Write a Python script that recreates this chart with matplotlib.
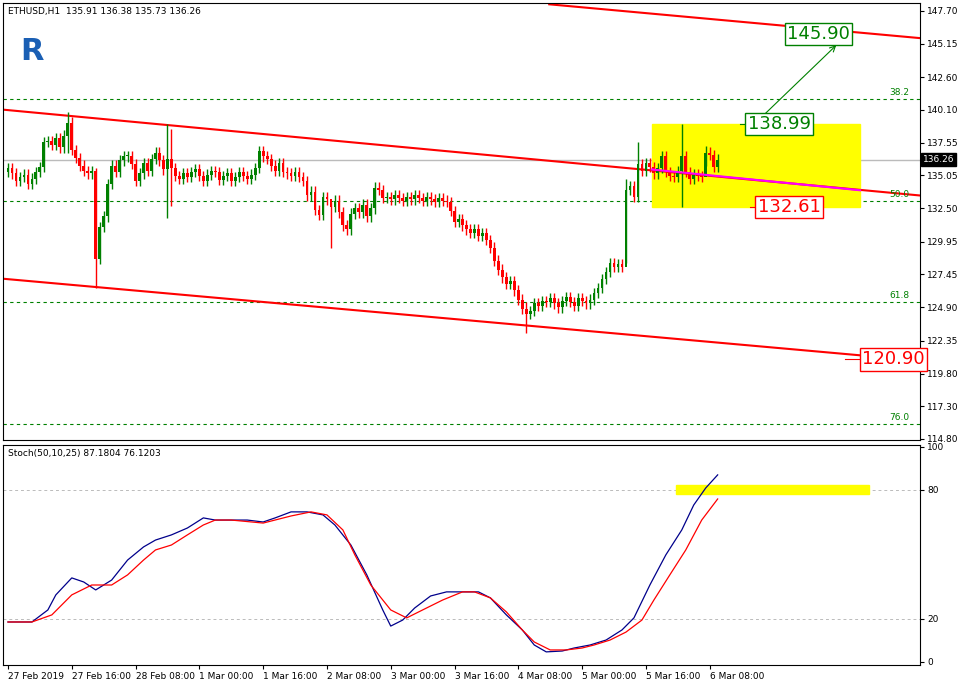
import numpy as np
import matplotlib.pyplot as plt
from matplotlib.patches import Rectangle

# hourly closes, ETHUSD H1 27 Feb - 6 Mar 2019
closes = [135.6, 135.2, 134.6, 134.9, 135.1, 134.4, 134.8, 135.3, 135.7, 137.6,
          137.7, 137.4, 137.9, 137.2, 138.1, 139.1, 137.0, 136.4, 135.8, 135.4,
          135.2, 135.4, 128.6, 131.1, 131.9, 134.4, 135.8, 135.3, 136.2, 136.5,
          136.5, 135.9, 134.6, 135.2, 136.0, 135.4, 136.3, 136.8, 136.2, 135.5,
          136.3, 135.6, 135.0, 134.8, 135.2, 134.9, 135.3, 135.5, 135.0, 134.6,
          135.1, 135.4, 135.3, 134.7, 135.0, 135.2, 134.6, 134.9, 135.3, 135.0,
          134.8, 135.1, 135.6, 136.9, 136.5, 136.3, 135.8, 135.4, 136.0, 135.3,
          135.2, 135.0, 135.3, 134.9, 134.6, 133.5, 133.8, 132.4, 132.0, 133.4,
          133.2, 132.6, 133.1, 132.2, 131.2, 130.9, 132.1, 132.5, 132.2, 132.8,
          131.9, 132.5, 134.1, 133.9, 133.3, 133.4, 133.2, 133.5, 133.3, 133.1,
          133.4, 133.2, 133.5, 133.3, 133.1, 133.4, 133.2, 133.0, 133.3, 133.1,
          133.0, 132.3, 131.5, 131.7, 131.2, 130.9, 130.6, 130.9, 130.4, 130.6,
          130.1, 129.5, 128.5, 127.8, 127.2, 126.7, 126.9, 126.2, 125.5, 124.8,
          124.4, 124.6, 125.2, 125.0, 125.4, 125.3, 125.6, 125.2, 124.9, 125.4,
          125.7, 125.3, 125.0, 125.6, 125.4, 125.2, 125.5, 126.0, 126.4, 127.1,
          127.6, 128.3, 128.0, 128.2, 128.0, 133.9, 134.2, 133.4, 135.9, 135.4,
          136.0, 135.7, 135.2, 135.6, 136.5, 135.3, 135.0, 134.9, 135.4, 136.5,
          135.3, 134.8, 135.1, 135.0, 134.9, 136.8, 136.6, 135.7, 136.26]
first_open = 135.3
wick = 0.4
# bars with long shadows: index -> (high, low)
long_wicks = {15: (139.9, 136.8), 22: (135.6, 126.4), 40: (139.0, 131.8),
              41: (138.6, 132.7), 81: (133.0, 129.5), 130: (125.3, 122.9),
              155: (134.8, 128.3), 158: (137.6, 133.0), 169: (138.99, 132.61),
              175: (137.3, 135.8)}

ticks_pos = [0, 16, 32, 48, 64, 80, 96, 112, 128, 144, 160, 176]
ticks_lbl = ['27 Feb 2019', '27 Feb 16:00', '28 Feb 08:00', '1 Mar 00:00', '1 Mar 16:00',
             '2 Mar 08:00', '3 Mar 00:00', '3 Mar 16:00', '4 Mar 08:00', '5 Mar 00:00',
             '5 Mar 16:00', '6 Mar 08:00']
price_ticks = [147.70, 145.15, 142.60, 140.10, 137.55, 135.05, 132.50, 129.95,
               127.45, 124.90, 122.35, 119.80, 117.30, 114.80]
fib_levels = [140.9, 133.1, 125.3, 115.9]
fib_names = ['38.2', '50.0', '61.8', '76.0']

k_x = [0, 6, 10, 12, 16, 19, 22, 26, 30, 34, 37, 41, 45, 49, 52, 56, 60, 64, 67, 71, 75, 79,
       82, 86, 90, 94, 96, 99, 102, 106, 110, 114, 118, 121, 125, 129, 132, 135, 139, 142,
       146, 150, 154, 157, 161, 165, 169, 172, 175, 178]
k_val = [18.6, 18.6, 24.2, 31.2, 39.1, 37.2, 33.5, 38.1, 47.4, 53.5, 56.7, 59.1, 62.3, 67.0,
         66.0, 66.0, 66.0, 65.1, 67.0, 69.8, 69.8, 68.4, 63.7, 54.4, 40.5, 24.2, 16.7, 19.5,
         25.1, 30.7, 32.6, 32.6, 32.6, 29.8, 21.9, 14.9, 7.9, 4.7, 5.1, 6.5, 7.9, 10.2, 14.9,
         20.5, 35.8, 49.8, 61.4, 73.0, 80.9, 87.0]
d_x = [0, 6, 11, 16, 21, 26, 30, 34, 37, 41, 45, 49, 52, 56, 64, 71, 76, 80, 84, 87, 91, 96,
       100, 104, 109, 114, 117, 121, 125, 129, 132, 136, 140, 144, 147, 151, 155, 159, 162,
       166, 170, 174, 178]
d_val = [18.6, 18.6, 21.9, 31.2, 35.8, 35.8, 40.5, 47.4, 52.1, 54.4, 59.1, 63.7, 66.0, 66.0,
         64.6, 67.9, 69.8, 68.4, 61.4, 49.8, 35.8, 24.2, 20.5, 24.2, 28.8, 32.6, 32.6, 29.8,
         23.3, 14.9, 9.3, 5.6, 5.6, 6.5, 7.9, 10.2, 13.9, 19.5, 28.8, 40.5, 52.1, 66.0, 75.8]

GREEN = '#008000'
RED = '#ff0000'
XMAX = 228.75

fig = plt.figure(figsize=(9.64, 6.84), dpi=100)
ax = fig.add_axes([3/964, 1-440/684, 917/964, 437/684])
ax2 = fig.add_axes([3/964, 1-665/684, 917/964, 220/684])

opens = [first_open] + closes[:-1]
for i, (o, c) in enumerate(zip(opens, closes)):
    col = GREEN if c >= o else RED
    hi, lo = long_wicks.get(i, (max(o, c) + wick, min(o, c) - wick))
    ax.vlines(i, lo, hi, color=col, lw=1, zorder=3)
    ax.bar(i, max(abs(c - o), 0.08), bottom=min(o, c), width=0.7, color=col, zorder=4)

# target zone
ax.add_patch(Rectangle((161.5, 132.61), 52.25, 138.99 - 132.61, color='yellow', zorder=1))
# channel
ax.plot([-1.25, XMAX], [140.1, 133.5], color=RED, lw=1.5, zorder=2)
ax.plot([-1.25, XMAX], [127.1, 120.8], color=RED, lw=1.5, zorder=2)
ax.plot([135.75, XMAX], [148.2, 145.6], color=RED, lw=1.5, zorder=2)
ax.plot([161.5, 213.75], [135.5, 133.9], color='magenta', lw=1.5, zorder=5)
ax.axhline(136.26, color='#bbbbbb', lw=1, zorder=0)
for lvl, nm in zip(fib_levels, fib_names):
    ax.axhline(lvl, color=GREEN, ls=(0, (3, 3)), lw=0.8, zorder=0)
    ax.text(226, lvl + 0.15, nm, fontsize=6.5, color=GREEN, ha='right', va='bottom')

ax.annotate('', xy=(208.25, 145.2), xytext=(188.25, 139.3),
            arrowprops=dict(arrowstyle='->', color=GREEN, lw=0.8))
ax.plot([183.5, 186.5], [138.99, 138.99], color=GREEN, lw=0.8)
ax.plot([186, 189], [132.61, 132.61], color=RED, lw=0.8)
ax.plot([210, 214], [120.9, 120.9], color=RED, lw=0.8)
box = dict(facecolor='white', edgecolor=GREEN, pad=1.5, lw=1)
rbox = dict(facecolor='white', edgecolor=RED, pad=1.5, lw=1)
ax.text(195.5, 145.9, '145.90', fontsize=13, color=GREEN, ha='left', va='center', bbox=box)
ax.text(185.5, 138.99, '138.99', fontsize=13, color=GREEN, ha='left', va='center', bbox=box)
ax.text(188, 132.61, '132.61', fontsize=13, color=RED, ha='left', va='center', bbox=rbox)
ax.text(214.2, 120.9, '120.90', fontsize=13, color=RED, ha='left', va='center', bbox=rbox)

ax.text(0, 148.0, 'ETHUSD,H1  135.91 136.38 135.73 136.26', fontsize=6.5, va='top')
ax.text(3, 144.6, 'R', fontsize=22, color='#1a5fb4', fontweight='bold', va='center')
ax.set_xlim(-1.25, XMAX)
ax.set_ylim(114.7, 148.3)
ax.yaxis.tick_right()
ax.set_yticks(price_ticks)
ax.set_yticklabels(['%.2f' % p for p in price_ticks], fontsize=6.5)
ax.set_xticks([])
ax.text(1.003, (136.26 - 114.7) / 33.6, '136.26', transform=ax.transAxes, fontsize=6.5,
        color='white', va='center', bbox=dict(facecolor='black', pad=1.2))

# stochastic
ax2.add_patch(Rectangle((167.5, 78), 48.5, 4.5, color='yellow', zorder=1))
ax2.plot(k_x, k_val, color='#00008b', lw=0.9, zorder=3)
ax2.plot(d_x, d_val, color=RED, lw=0.9, zorder=3)
for lvl in (20, 80):
    ax2.axhline(lvl, color='#bbbbbb', ls=(0, (3, 3)), lw=0.7, zorder=0)
ax2.text(0, 99, 'Stoch(50,10,25) 87.1804 76.1203', fontsize=6.5, va='top')
ax2.set_xlim(-1.25, XMAX)
ax2.set_ylim(-1.4, 100.9)
ax2.yaxis.tick_right()
ax2.set_yticks([0, 20, 80, 100])
ax2.set_yticklabels(['0', '20', '80', '100'], fontsize=6.5)
ax2.set_xticks(ticks_pos)
ax2.set_xticklabels(ticks_lbl, fontsize=6.5, ha='left')
for a in (ax, ax2):
    a.tick_params(length=3, pad=2)

fig.savefig('out.png', dpi=100)
